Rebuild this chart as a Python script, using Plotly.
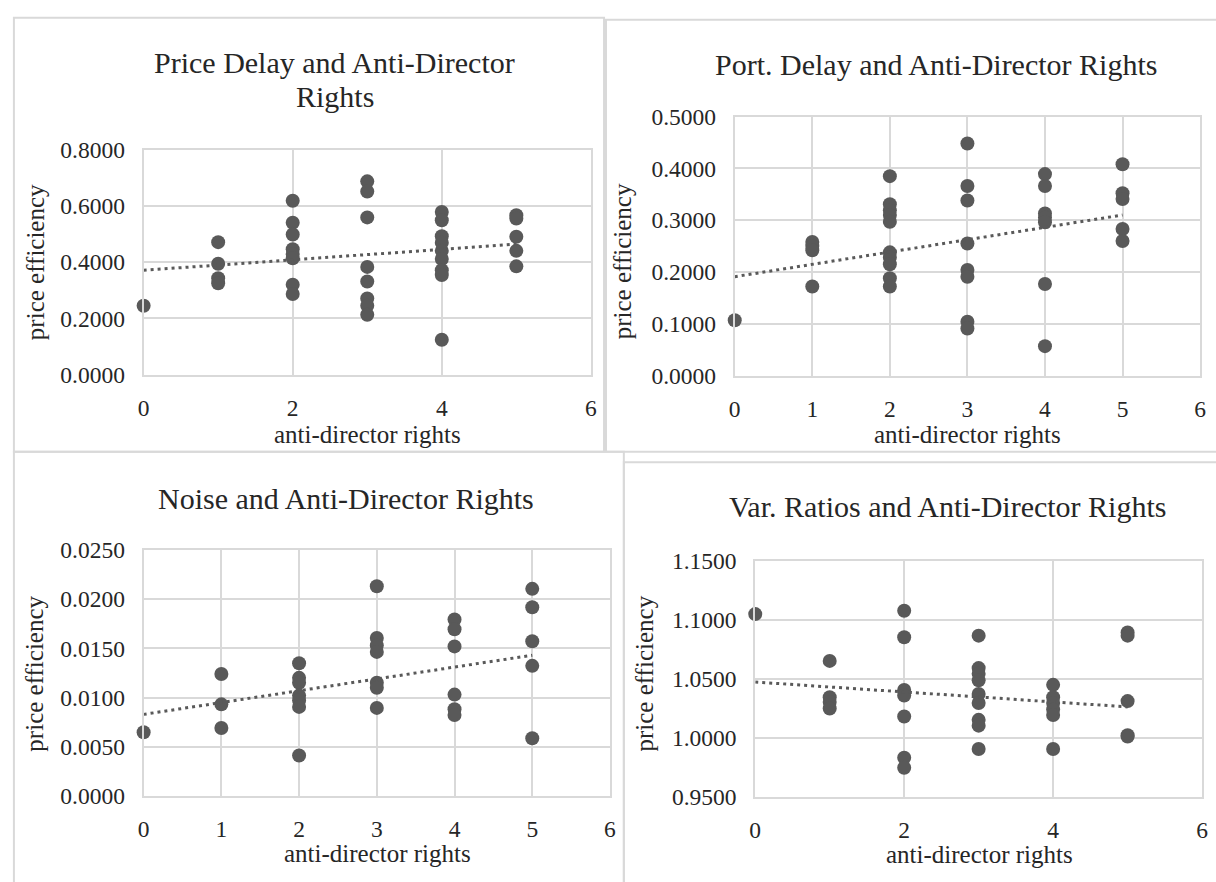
import plotly.graph_objects as go

W, H = 1216, 882

# ---------------- data ----------------
# Panel 1: Price Delay
pd_x = [0, 1, 1, 1, 1, 2, 2, 2, 2, 2, 2, 2, 2,
        3, 3, 3, 3, 3, 3, 3, 3, 4, 4, 4, 4, 4, 4, 4, 4, 4, 5, 5, 5, 5, 5]
pd_y = [0.245, 0.471, 0.394, 0.343, 0.325,
        0.618, 0.540, 0.498, 0.446, 0.429, 0.414, 0.320, 0.287,
        0.687, 0.651, 0.559, 0.383, 0.331, 0.271, 0.245, 0.213,
        0.578, 0.549, 0.492, 0.469, 0.440, 0.411, 0.371, 0.354, 0.124,
        0.567, 0.555, 0.490, 0.440, 0.385]
pd_trend = [0.371, 0.464]

# Panel 2: Port. Delay
port_x = [0, 1, 1, 1, 1, 2, 2, 2, 2, 2, 2, 2, 2, 2, 2,
          3, 3, 3, 3, 3, 3, 3, 3, 4, 4, 4, 4, 4, 4, 4, 5, 5, 5, 5, 5]
port_y = [0.107, 0.258, 0.250, 0.242, 0.172,
          0.385, 0.331, 0.319, 0.310, 0.297, 0.238, 0.228, 0.215, 0.188, 0.172,
          0.448, 0.366, 0.338, 0.255, 0.204, 0.191, 0.104, 0.091,
          0.389, 0.366, 0.313, 0.305, 0.296, 0.177, 0.057,
          0.408, 0.352, 0.341, 0.283, 0.260]
port_trend = [0.191, 0.310]

# Panel 3: Noise
noise_x = [0, 1, 1, 1, 2, 2, 2, 2, 2, 2, 2,
           3, 3, 3, 3, 3, 3, 3, 4, 4, 4, 4, 4, 4, 5, 5, 5, 5, 5]
noise_y = [0.00648, 0.0124, 0.00931, 0.00691,
           0.01349, 0.0120, 0.01151, 0.0102, 0.0097, 0.00905, 0.00411,
           0.02132, 0.01605, 0.0153, 0.01464, 0.0115, 0.0110, 0.00895,
           0.01793, 0.01694, 0.0152, 0.0103, 0.00882, 0.00822,
           0.02105, 0.01918, 0.01572, 0.01322, 0.00586]
noise_trend = [0.00829, 0.0143]

# Panel 4: Var. Ratios
vr_x = [0, 1, 1, 1, 1, 2, 2, 2, 2, 2, 2, 2,
        3, 3, 3, 3, 3, 3, 3, 3, 3, 4, 4, 4, 4, 4, 4, 5, 5, 5, 5, 5]
vr_y = [1.1047, 1.0650, 1.0342, 1.0301, 1.0246,
        1.1075, 1.0850, 1.0403, 1.0356, 1.0178, 0.9829, 0.9744,
        1.0864, 1.0589, 1.0540, 1.0485, 1.0370, 1.0293, 1.0150, 1.0101, 0.9903,
        1.0447, 1.0342, 1.0293, 1.0238, 1.0191, 0.9903,
        1.0891, 1.0864, 1.0309, 1.0019, 1.0008]
vr_trend = [1.0471, 1.0260]

trend_x = [0, 5]

titles = [["Price Delay and Anti-Director", "Rights"],
          ["Port. Delay and Anti-Director Rights"],
          ["Noise and Anti-Director Rights"],
          ["Var. Ratios and Anti-Director Rights"]]
x_title = "anti-director rights"
y_title = "price efficiency"

# ---------------- layout helpers ----------------
def px(x):
    return x / W

def py(y):
    return 1 - y / H

FONT = "Liberation Serif"
MARK = "#595959"
GRID = "#d9d9d9"
TXT = "#262626"

panels = [
    dict(x=pd_x, y=pd_y, tr=pd_trend, box=(139, 590.7, 140.7, 372.7),
         yr=[0, 0.8], ydt=0.2, xdt=2),
    dict(x=port_x, y=port_y, tr=port_trend, box=(736, 1206, 106.7, 373.7),
         yr=[0, 0.5], ydt=0.1, xdt=1),
    dict(x=noise_x, y=noise_y, tr=noise_trend, box=(139, 610, 553.3, 806.7),
         yr=[0, 0.025], ydt=0.005, xdt=1),
    dict(x=vr_x, y=vr_y, tr=vr_trend, box=(756.7, 1208, 564.3, 807.3),
         yr=[0.95, 1.15], ydt=0.05, xdt=2),
]

# title line centres (x, [y per line])
title_pos = [(332, [51, 86]), (939, [53]), (343, [500]), (951, [509])]
ytitle_pos = [(30, 257), (623, 256), (29, 681), (645, 681)]
xtitle_pos = [(365, 434), (971, 434), (375, 866), (983, 867)]

fig = go.Figure()
layout = dict(width=W, height=H, margin=dict(l=0, r=0, t=0, b=0),
              paper_bgcolor="white", plot_bgcolor="white", showlegend=False,
              font=dict(family=FONT, color=TXT))

annotations = []
for i, p in enumerate(panels):
    n = "" if i == 0 else str(i + 1)
    xa, ya = "x" + n, "y" + n
    L, R, T, B = p["box"]
    layout["xaxis" + n] = dict(
        domain=[px(L), px(R)], range=[0, 6], dtick=p["xdt"], tick0=0,
        showgrid=True, gridcolor=GRID, gridwidth=2, zeroline=False,
        showline=True, linecolor=GRID, linewidth=2, mirror=True,
        ticks="outside", ticklen=11, tickcolor="rgba(0,0,0,0)",
        tickfont=dict(family=FONT, size=23.5, color=TXT), anchor=ya)
    layout["yaxis" + n] = dict(
        domain=[py(B), py(T)], range=p["yr"], dtick=p["ydt"], tick0=p["yr"][0],
        tickformat=".4f",
        showgrid=True, gridcolor=GRID, gridwidth=2, zeroline=False,
        showline=True, linecolor=GRID, linewidth=2, mirror=True,
        ticks="outside", ticklen=12, tickcolor="rgba(0,0,0,0)",
        tickfont=dict(family=FONT, size=23.5, color=TXT), anchor=xa)
    fig.add_trace(go.Scatter(x=p["x"], y=p["y"], mode="markers",
                             marker=dict(size=14, color=MARK),
                             xaxis=xa, yaxis=ya, cliponaxis=False))
    fig.add_trace(go.Scatter(x=trend_x, y=p["tr"], mode="lines",
                             line=dict(color=MARK, width=3, dash="3px,4px"),
                             xaxis=xa, yaxis=ya))
    tx, tys = title_pos[i]
    for line, ty in zip(titles[i], tys):
        annotations.append(dict(text=line, x=px(tx), y=py(ty), xref="paper", yref="paper",
                                xanchor="center", yanchor="middle", showarrow=False,
                                font=dict(family=FONT, size=30, color=TXT)))
    yx, yy = ytitle_pos[i]
    annotations.append(dict(text=y_title, x=px(yx), y=py(yy), xref="paper", yref="paper",
                            xanchor="center", yanchor="middle", showarrow=False,
                            textangle=-90, font=dict(family=FONT, size=25, color=TXT)))
    xx, xy = xtitle_pos[i]
    annotations.append(dict(text=x_title, x=px(xx), y=py(xy), xref="paper", yref="paper",
                            xanchor="center", yanchor="middle", showarrow=False,
                            font=dict(family=FONT, size=25, color=TXT)))

frames = [(8, 604, 5, 452), (606, 1230, 7, 452), (8, 624, 452, 900), (624, 1230, 463, 900)]
shapes = []
for (l, r, t, b) in frames:
    shapes.append(dict(type="rect", xref="paper", yref="paper",
                       x0=px(l), x1=px(r), y0=py(b), y1=py(t),
                       line=dict(color=GRID, width=2), layer="below"))

layout["annotations"] = annotations
layout["shapes"] = shapes
fig.update_layout(**layout)
fig.write_html("out.html", config={"displayModeBar": False},
               post_script="document.body.style.margin='0px';"
                           "document.body.style.padding='0px';"
                           "document.body.style.overflow='hidden';")
